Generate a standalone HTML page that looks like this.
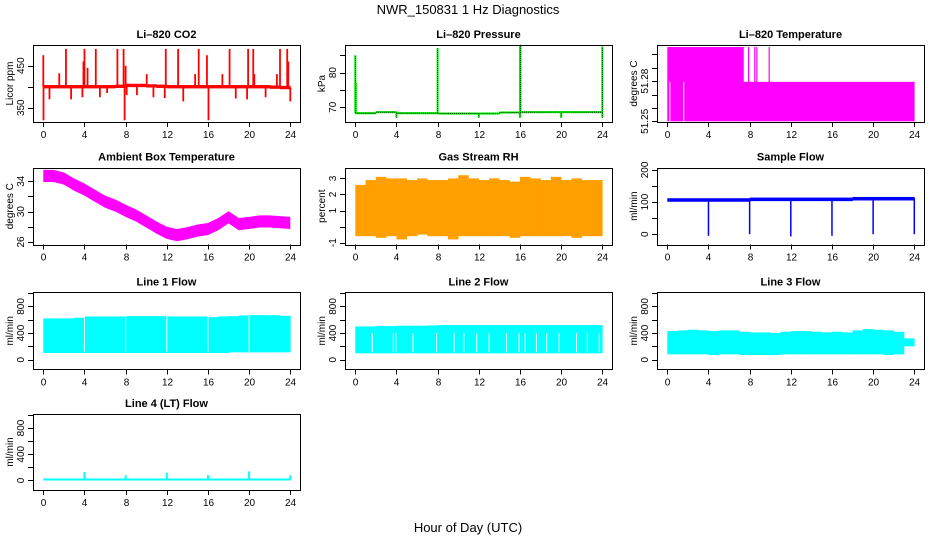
<!DOCTYPE html>
<html><head><meta charset="utf-8"><style>
body{margin:0;background:#fff}
svg{display:block;font-family:"Liberation Sans",sans-serif}
</style></head><body>
<svg id="c" width="936" height="540" viewBox="0 0 936 540">
<text x="468" y="14" text-anchor="middle" font-size="13">NWR_150831  1 Hz Diagnostics</text>
<text x="468" y="532" text-anchor="middle" font-size="13">Hour of Day (UTC)</text>
</svg>
<script>
const hours=[0,1,2,3,4,5,6,7,8,9,10,11,12,13,14,15,16,17,18,19,20,21,22,23];
const xTicks=[0,4,8,12,16,20,24];
// CO2
const co2Base=[400,400,400,400,400,400,400,401,403,403,402,401,400,400,400,400,400,400,400,400,400,400,399,398];
const co2SpikeHours=[0,1.55,2.2,3.9,4.0,4.3,5.1,7.2,7.8,8.0,10.05,11.9,13.1,14.75,15.1,15.9,17.4,18.1,19.9,20.4,20.5,22.7,23.0,23.7,23.8,0.02,0.6,2.7,3.8,5.5,6.2,7.9,8.1,9.1,10.7,11.8,13.6,16.05,18.7,19.8,21.6,24];
const co2SpikeVals=[475,432,490,460,490,445,490,490,490,450,430,490,490,430,490,475,430,490,490,490,430,430,490,490,460,320,370,370,375,375,385,320,380,380,375,373,365,320,372,370,375,365];
// Pressure
const presBase=[68.3,68.3,68.6,68.6,68.3,68.3,68.3,68.3,68.2,68.2,68.2,68.2,68.2,68.2,68.5,68.5,68.6,68.6,68.6,68.6,68.6,68.6,68.6,68.6];
const presSpikeHours=[0,0.05,8,16,16.05,24,4,12,20,16,24];
const presSpikeVals=[85,77,87,88,88,87.5,67,67,67,67,67];
// Li-820 temperature
const tempSegStarts=[0,7.4];
const tempSegEnds=[7.4,24];
const tempSegTops=[51.3055,51.2795];
const tempSpikeHours=[7.9,8.5,8.7,9.9];
const tempGapHours=[0.25,1.6];
// Ambient
const ambHours=[0,1,2,3,4,5,6,7,8,9,10,11,12,13,14,15,16,17,18,19,20,21,22,23,24];
const ambTemp=[34.7,34.7,34.35,33.55,32.9,32.1,31.3,30.8,30.1,29.5,28.7,27.9,27.2,26.9,27.15,27.5,27.7,28.35,29.25,28.35,28.5,28.7,28.7,28.6,28.5];
// RH
const rhHi=[2.6,2.9,3.1,3.0,3.0,2.9,3.0,2.9,2.9,3.0,3.2,3.0,2.9,3.0,2.9,2.8,3.1,3.0,2.9,3.1,2.9,3.0,2.9,2.9];
const rhLo=[-0.6,-0.6,-0.7,-0.6,-0.8,-0.6,-0.5,-0.6,-0.6,-0.8,-0.6,-0.6,-0.6,-0.6,-0.6,-0.7,-0.6,-0.6,-0.6,-0.6,-0.6,-0.7,-0.6,-0.6];
// Sample flow
const sfBase=[108,108,108,108,108,108,108,108,110,110,110,110,110,110,110,110,110,110,112,112,112,112,112,112];
const sfDipHours=[4,8,12,16,20,24];
const sfDipVals=[-5,0,-7,-5,0,0];
// Line flows
const l1Hi=[620,620,620,630,650,650,650,650,655,655,655,655,650,650,650,650,640,650,655,665,670,670,668,660];
const l1Lo=[100,100,100,100,100,100,100,100,100,100,100,100,100,100,100,100,100,100,110,110,110,110,110,110];
const l1Gaps=[4,8,12,16,20];
const l2Hi=[500,500,505,505,510,510,510,515,520,520,520,520,520,520,520,520,520,520,520,520,520,520,520,520];
const l2Lo=[95,95,95,95,95,95,95,95,95,95,95,95,95,95,95,95,95,95,95,95,95,95,95,95];
const l2Gaps=[1.65,3.7,3.95,5.6,7.9,9.6,10.55,11.8,13.0,14.7,15.9,16.5,17.6,18.6,19.8,21.5,22.55,23.7];
const l3Hi=[430,440,450,440,430,440,440,420,410,410,400,420,430,430,420,410,420,410,440,460,450,440,420,320];
const l3Lo=[80,80,80,80,70,80,80,70,70,70,70,80,80,80,80,80,80,80,80,80,80,70,80,200];
const l4SpikeHours=[4,8,12,16,20,24];
const l4SpikeVals=[130,80,120,80,140,80];

const svg=document.getElementById('c');
const NS='http://www.w3.org/2000/svg';
function mk(tag,attrs,parent){const e=document.createElementNS(NS,tag);for(const k in attrs)e.setAttribute(k,attrs[k]);(parent||svg).appendChild(e);return e;}
const COLS=[33,345,657],ROWS=[45,167.7,292.3,414];
function panel(col,row,dom,name){
  const L=COLS[col],T=ROWS[row],W=267,H=row===3?76:77;
  const g=mk('g',{});
  
  
  return {g,L,T,W,H,X:h=>L+10.3+h*247/24,Y:v=>T+H-(v-dom[0])/(dom[1]-dom[0])*H};
}
function axes(p,title,ylab,ticks,labels){
  const ax=mk('g',{stroke:'#000','stroke-width':1,fill:'none','shape-rendering':'crispEdges'},p.g);
  
  
  mk('rect',{x:p.L+.5,y:Math.round(p.T)+.5,width:p.W,height:p.H},ax);
  xTicks.forEach(t=>{const x=Math.round(p.X(t))+.5;mk('line',{x1:x,x2:x,y1:p.T+p.H,y2:p.T+p.H+5},ax);
    const tl=mk('text',{x:x,y:p.T+p.H+16,'text-anchor':'middle','font-size':10,fill:'#000',stroke:'none'},p.g);tl.textContent=t;
    
    });
  ticks.forEach(t=>{const y=Math.round(p.Y(t))+.5;mk('line',{x1:p.L-5,x2:p.L,y1:y,y2:y},ax);});
  labels.forEach(t=>{const y=p.Y(t);const tl=mk('text',{x:0,y:0,transform:`translate(${p.L-9},${y}) rotate(-90)`,'text-anchor':'middle','font-size':10,fill:'#000'},p.g);tl.textContent=t;
    
    });
  const yl=mk('text',{transform:`translate(${p.L-20},${p.T+p.H/2}) rotate(-90)`,'text-anchor':'middle','font-size':10,fill:'#000'},p.g);yl.textContent=ylab;
  
  
  const tt=mk('text',{x:p.L+p.W/2,y:p.T-7,'text-anchor':'middle','font-size':11,'font-weight':'bold',fill:'#000'},p.g);tt.textContent=title;
  
  
}
function vline(p,h,v1,v2,color,w){const x=p.X(h);const e=mk('line',{x1:x,x2:x,y1:p.Y(v1),y2:p.Y(v2),stroke:color,'stroke-width':w||1.5},p.g);
  
  return e;}
function rectH(p,h1,h2,lo,hi,fill){const x1=p.X(h1),x2=p.X(h2);const e=mk('rect',{x:x1,y:p.Y(hi),width:x2-x1+.3,height:p.Y(lo)-p.Y(hi),fill:fill},p.g);
  
  return e;}
function band(p,i,lo,hi,fill){return rectH(p,hours[i],hours[i]+1,lo,hi,fill);}

// CO2
let p=panel(0,0,[316,499.3],'co2-panel');
hours.forEach((h,i)=>band(p,i,co2Base[i]-4,co2Base[i]+4,'#ff0000'));
co2SpikeHours.forEach((h,i)=>vline(p,h,co2Base[Math.min(23,Math.floor(h))],co2SpikeVals[i],'#ff0000',1.8));
axes(p,'Li–820 CO2','Licor ppm',[350,400,450],[350,450]);
// Pressure
p=panel(1,0,[65.76,87.95],'pressure-panel');
hours.forEach((h,i)=>band(p,i,presBase[i]-0.3,presBase[i]+0.3,'#00ee00'));
hours.forEach((h,i)=>{const e=mk('line',{x1:p.X(h),x2:p.X(h+1),y1:p.Y(presBase[i]),y2:p.Y(presBase[i]),stroke:'#000','stroke-width':.8,'stroke-dasharray':'1 1'},p.g);
  
  });
presSpikeHours.forEach((h,i)=>{vline(p,h,68.3,presSpikeVals[i],'#00ee00',2);vline(p,h,68.3,presSpikeVals[i],'#000',.6).setAttribute('stroke-dasharray','1 1');});
axes(p,'Li–820 Pressure','kPa',[70,75,80,85],[70,80]);
// Temperature
p=panel(2,0,[51.2495,51.307],'li820-temperature-panel');
tempSegStarts.forEach((s,i)=>rectH(p,s,tempSegEnds[i],51.25,tempSegTops[i],'#ff00ff'));
tempSpikeHours.forEach(h=>vline(p,h,51.27,51.3055,'#ff00ff',1.2));
tempGapHours.forEach(h=>vline(p,h,51.25,51.2795,'#fff',1));
axes(p,'Li–820 Temperature','degrees C',[51.25,51.26,51.27,51.28,51.29,51.30],['51.25','51.28']);
// Ambient
p=panel(0,1,[25.64,35.78],'ambient-temperature-panel');
let pts=ambHours.map((h,i)=>p.X(h)+','+p.Y(ambTemp[i]+0.8)).concat(ambHours.slice().reverse().map((h,j)=>{const i=ambHours.length-1-j;return p.X(h)+','+p.Y(ambTemp[i]-0.8);}));
let poly=mk('polygon',{points:pts.join(' '),fill:'#ff00ff'},p.g);


axes(p,'Ambient Box Temperature','degrees C',[26,28,30,32,34],[26,30,34]);
// RH
p=panel(1,1,[-1.13,3.67],'gas-stream-rh-panel');
hours.forEach((h,i)=>band(p,i,rhLo[i],rhHi[i],'#ffa000'));
axes(p,'Gas Stream RH','percent',[-1,0,1,2,3],[-1,1,2,3]);
// Sample flow
p=panel(2,1,[-32.6,207],'sample-flow-panel');
hours.forEach((h,i)=>band(p,i,sfBase[i]-7,sfBase[i]+4,'#0000ff'));
sfDipHours.forEach((h,i)=>vline(p,h,sfBase[Math.min(23,h)],sfDipVals[i],'#0000ff',1.5));
axes(p,'Sample Flow','ml/min',[0,50,100,150,200],[0,100,200]);
// Line 1
p=panel(0,2,[-145,1013],'line1-flow-panel');
hours.forEach((h,i)=>band(p,i,l1Lo[i],l1Hi[i],'#00ffff'));
l1Gaps.forEach(h=>vline(p,h,120,660,'#fff',1));
axes(p,'Line 1 Flow','ml/min',[0,200,400,600,800,1000],[0,400,800]);
// Line 2
p=panel(1,2,[-145,1013],'line2-flow-panel');
hours.forEach((h,i)=>band(p,i,l2Lo[i],l2Hi[i],'#00ffff'));
l2Gaps.forEach(h=>vline(p,h,110,400,'#fff',1));
axes(p,'Line 2 Flow','ml/min',[0,200,400,600,800,1000],[0,400,800]);
// Line 3
p=panel(2,2,[-145,1013],'line3-flow-panel');
hours.forEach((h,i)=>band(p,i,l3Lo[i],l3Hi[i],'#00ffff'));
axes(p,'Line 3 Flow','ml/min',[0,200,400,600,800,1000],[0,400,800]);
// Line 4
p=panel(0,3,[-145,1013],'line4-flow-panel');
hours.forEach((h,i)=>band(p,i,0,30,'#00ffff'));
l4SpikeHours.forEach((h,i)=>vline(p,h,10,l4SpikeVals[i],'#00ffff',2));
axes(p,'Line 4 (LT) Flow','ml/min',[0,200,400,600,800,1000],[0,400,800]);
</script>
</body></html>
